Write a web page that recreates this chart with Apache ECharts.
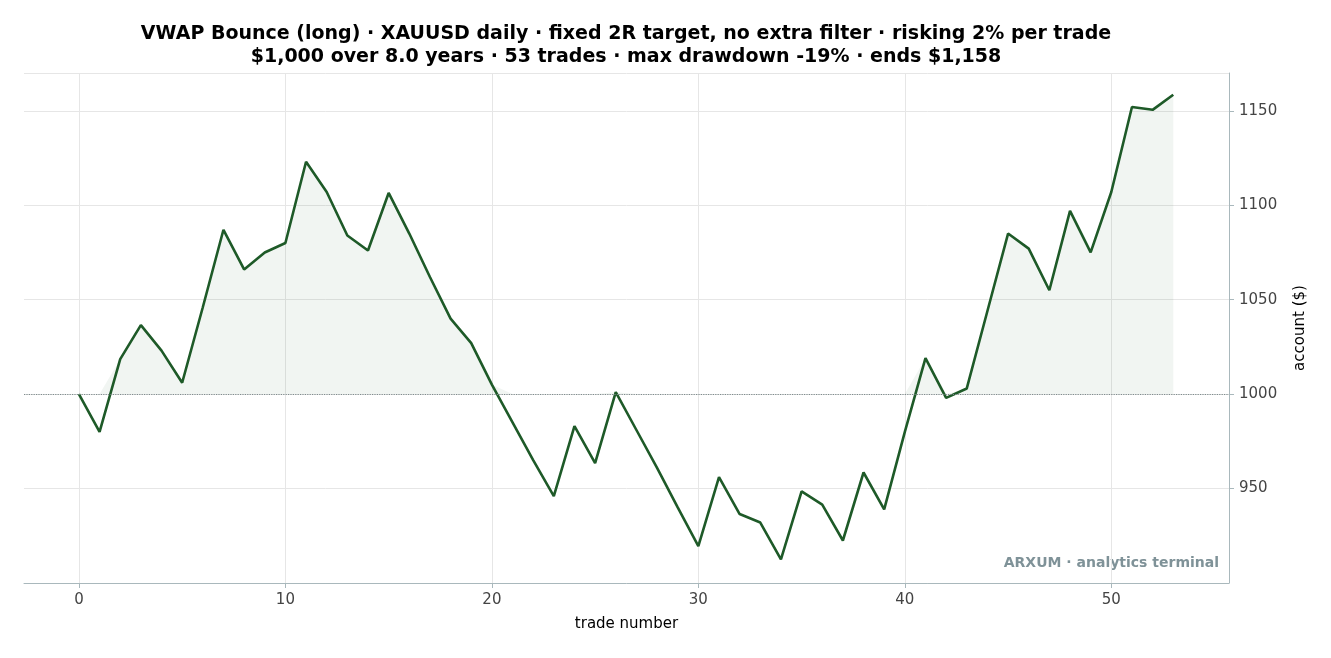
<!DOCTYPE html>
<html><head><meta charset="utf-8">
<script src="https://cdn.jsdelivr.net/npm/echarts@6/dist/echarts.min.js"></script>
<style>html,body{margin:0;padding:0;background:#fff}#c{width:1331px;height:658px}</style>
</head><body><div id="c"></div>
<script>
const trades = Array.from({length:54},(_,i)=>i);
const equity = [1000,980,1018.5,1036.5,1023,1006,1046,1087,1066,1075,1080,1123,1107,1084,1076,1106.5,1085,1062,1040,1027,1005,985,965,946,983,963.5,1001,981,961,940,919.5,956,936.5,932,912.5,948.5,941.5,922.5,958.5,939,980,1019,998,1003,1044,1085,1077,1055,1097,1075,1107,1152,1150.5,1158.5];
const xTicks = [0,10,20,30,40,50];
const base = 1000;
const lineData = trades.map((t,i)=>[t,equity[i]]);
const fillData = trades.map((t,i)=>[t,Math.max(equity[i],base)]);
const font = 'DejaVu Sans';
const chart = echarts.init(document.getElementById('c'));
chart.setOption({
  animation:false,
  textStyle:{fontFamily:font},
  grid:{left:24,right:102,top:73,bottom:75},
  xAxis:{type:'value',min:-2.66,max:55.7,
    axisLine:{onZero:false,lineStyle:{color:'#a9b8bc'}},splitLine:{show:false},
    axisTick:{customValues:xTicks,lineStyle:{color:'#a9b8bc'}},
    axisLabel:{customValues:xTicks,color:'#444',fontSize:15,fontFamily:font,margin:10},
    name:'trade number',nameLocation:'middle',nameGap:34,nameTextStyle:{fontSize:15,color:'#000',fontFamily:font}},
  yAxis:{type:'value',position:'right',min:900,max:1170,interval:50,
    axisLine:{show:true,onZero:false,lineStyle:{color:'#a9b8bc'}},
    axisTick:{show:true,lineStyle:{color:'#a9b8bc'}},
    axisLabel:{showMinLabel:false,showMaxLabel:false,formatter:v=>String(v),color:'#444',fontSize:15,fontFamily:font,margin:10},
    splitLine:{lineStyle:{color:'#e6e6e6'}},
    name:'account ($)',nameLocation:'middle',nameGap:64,nameRotate:90,nameTextStyle:{fontSize:15,color:'#000',fontFamily:font}},
  series:[
    {type:'line',data:[],silent:true,z:0,
     markLine:{silent:true,symbol:'none',label:{show:false},z:0,
       data:xTicks.map(v=>({xAxis:v,lineStyle:{color:'#e6e6e6',type:'solid',width:1}}))}},
    {type:'line',data:fillData,symbol:'none',lineStyle:{opacity:0},areaStyle:{origin:base,color:'rgba(30,100,50,0.09)'},silent:true,z:1,
     markLine:{silent:true,symbol:'none',label:{show:false},
       data:[{yAxis:base,lineStyle:{color:'#7f8c8d',type:'dotted',width:1.2}}]}},
    {type:'line',data:lineData,symbol:'none',lineStyle:{color:'#1e5a28',width:2.6},z:3}
  ],
  graphic:[
    {type:'text',x:626,y:25,style:{text:'VWAP Bounce (long) · XAUUSD daily · fixed 2R target, no extra filter · risking 2% per trade',textAlign:'center',fill:'#000',font:'bold 19px "DejaVu Sans"'}},
    {type:'text',x:626,y:48,style:{text:'$1,000 over 8.0 years · 53 trades · max drawdown -19% · ends $1,158',textAlign:'center',fill:'#000',font:'bold 19px "DejaVu Sans"'}},
    {type:'text',right:112,bottom:88,style:{text:'ARXUM · analytics terminal',fill:'#7f9298',font:'bold 14px "DejaVu Sans"'}}]
});
</script></body></html>
